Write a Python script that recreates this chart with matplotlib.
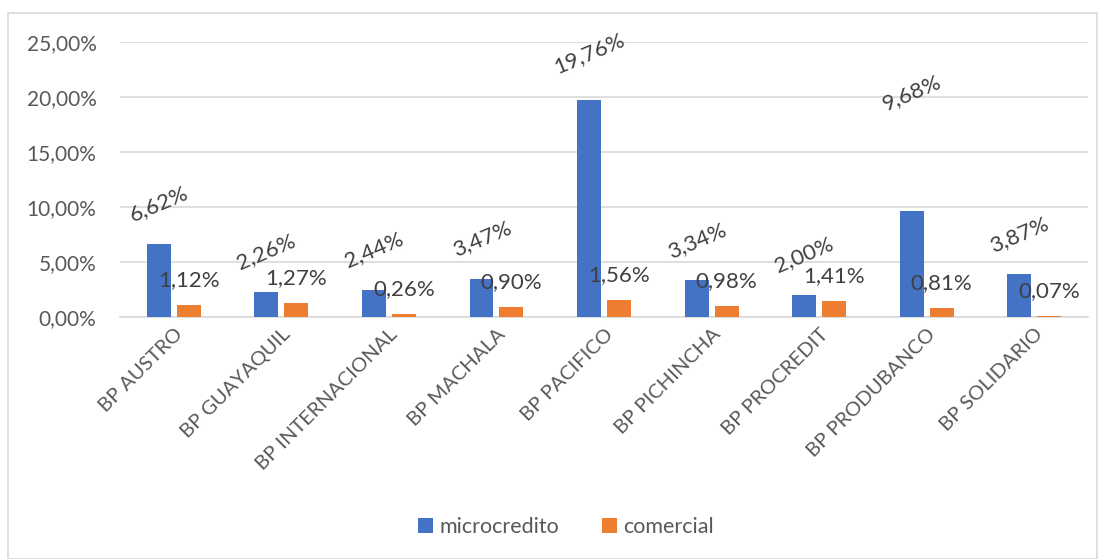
import numpy as np
import matplotlib.pyplot as plt
from matplotlib.patches import Rectangle

# datos
bancos = ['BP AUSTRO', 'BP GUAYAQUIL', 'BP INTERNACIONAL', 'BP MACHALA', 'BP PACIFICO',
          'BP PICHINCHA', 'BP PROCREDIT', 'BP PRODUBANCO', 'BP SOLIDARIO']
microcredito = [6.62, 2.26, 2.44, 3.47, 19.76, 3.34, 2.00, 9.68, 3.87]
comercial = [1.12, 1.27, 0.26, 0.90, 1.56, 0.98, 1.41, 0.81, 0.07]
yticks = [0, 5, 10, 15, 20, 25]

azul = '#4472C4'
naranja = '#ED7D31'
gris = '#595959'
plt.rcParams['font.family'] = ['Lato', 'DejaVu Sans']

def pct(v):
    return f'{v:.2f}%'.replace('.', ',')

fig = plt.figure(figsize=(11.03, 5.59), dpi=100)
ax = fig.add_axes([0.1088, 0.4329, 0.8776, 0.4920])

x = np.arange(len(bancos))
w = 0.223
b1 = ax.bar(x - 0.139, microcredito, w, color=azul, label='microcredito', zorder=3)
b2 = ax.bar(x + 0.139, comercial, w, color=naranja, label='comercial', zorder=3)

# etiquetas de datos
desfase = {4: 46, 7: 118}
for i, v in enumerate(microcredito):
    off = desfase.get(i, 40) * 0.72
    ax.annotate(pct(v), (x[i] - 0.139, v), xytext=(0, off), textcoords='offset points',
                ha='center', va='center', rotation=23, fontsize=16, color='#404040')
for i, v in enumerate(comercial):
    ax.annotate(pct(v), (x[i] + 0.139, v), xytext=(0, 25 * 0.72), textcoords='offset points',
                ha='center', va='center', fontsize=16, color='#404040')

ax.set_xlim(-0.5, len(bancos) - 0.5)
ax.set_ylim(0, 25)
ax.set_yticks(yticks)
ax.set_yticklabels([pct(t) for t in yticks], fontsize=15, color=gris)
ax.tick_params(axis='y', length=0, pad=17)
ax.set_xticks(x)
ax.set_xticklabels(bancos, rotation=45, ha='right', rotation_mode='anchor',
                   fontsize=14.5, color=gris)
ax.tick_params(axis='x', length=0, pad=6)
ax.grid(axis='y', color='#d9d9d9', linewidth=1.2, zorder=0)
for s in ['top', 'right', 'left']:
    ax.spines[s].set_visible(False)
ax.spines['bottom'].set_color('#d9d9d9')
ax.spines['bottom'].set_linewidth(1.2)

leg = fig.legend(handles=[b1, b2], loc='center', bbox_to_anchor=(0.513, 0.057), ncol=2,
                 frameon=False, fontsize=15.5, handlelength=0.7, handleheight=0.7,
                 handletextpad=0.3, columnspacing=2.0)
for t in leg.get_texts():
    t.set_color(gris)

fig.patches.append(Rectangle((8 / 1103, 0.0), 1089 / 1103, 1 - 13 / 559, transform=fig.transFigure,
                             fill=False, edgecolor='#d9d9d9', linewidth=1.2))

fig.savefig('out.png', dpi=100, facecolor='white')
